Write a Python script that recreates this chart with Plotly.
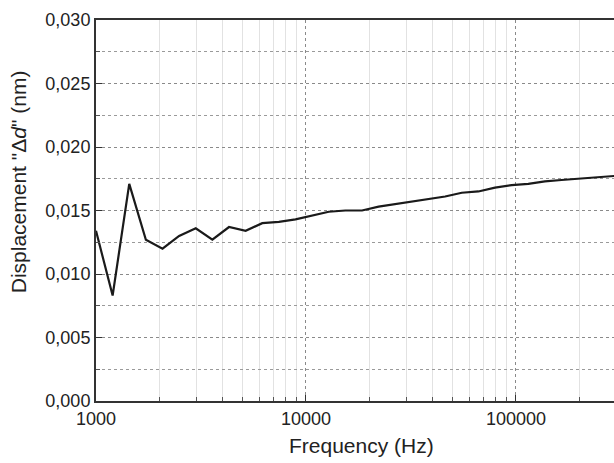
import plotly.graph_objects as go

# Data
freq_hz = [1000, 1200, 1440, 1728, 2074, 2488, 2986, 3583, 4300, 5160, 6192, 7430,
           8916, 10699, 12839, 15407, 18488, 22186, 26623, 31948, 38338, 46005,
           55206, 66247, 79497, 95396, 114475, 137370, 164844, 197813, 237376,
           284851, 341821]
displacement_nm = [0.0134, 0.0083, 0.0171, 0.0127, 0.0120, 0.0130, 0.0136, 0.0127,
                   0.0137, 0.0134, 0.0140, 0.0141, 0.0143, 0.0146, 0.0149, 0.0150,
                   0.0150, 0.0153, 0.0155, 0.0157, 0.0159, 0.0161, 0.0164, 0.0165,
                   0.0168, 0.0170, 0.0171, 0.0173, 0.0174, 0.0175, 0.0176, 0.0177,
                   0.0178]

x_tick_vals = [1000, 10000, 100000]
x_tick_text = ["1000", "10000", "100000"]
x_minor_vals = [2000, 3000, 4000, 5000, 6000, 7000, 8000, 9000,
                20000, 30000, 40000, 50000, 60000, 70000, 80000, 90000,
                200000, 300000, 400000]
y_tick_vals = [0.0, 0.005, 0.010, 0.015, 0.020, 0.025, 0.030]
y_tick_text = ["0,000", "0,005", "0,010", "0,015", "0,020", "0,025", "0,030"]
y_minor_vals = [0.0025, 0.0075, 0.0125, 0.0175, 0.0225, 0.0275]

FONT = "Liberation Sans, Arial, sans-serif"
TXT = "#222222"

fig = go.Figure()
fig.add_trace(go.Scatter(
    x=freq_hz, y=displacement_nm, mode="lines",
    line=dict(color="#1a1a1a", width=2.2), showlegend=False,
))

fig.update_layout(
    width=614, height=463,
    margin=dict(l=96, r=0, t=20, b=62),
    paper_bgcolor="white", plot_bgcolor="white",
    font=dict(family=FONT, color=TXT, size=18),
    xaxis=dict(
        type="log", range=[3, 5.467],
        tickvals=x_tick_vals, ticktext=x_tick_text,
        ticks="inside", ticklen=6, tickcolor="#333", tickwidth=1.2,
        showline=True, linecolor="#333", linewidth=2, mirror=True,
        showgrid=True, gridcolor="#8a8a8a", griddash="dot", gridwidth=1.2,
        tickfont=dict(size=18, family=FONT, color=TXT),
        minor=dict(tickvals=x_minor_vals, ticks="inside", ticklen=4,
                   tickcolor="#555", showgrid=True, gridcolor="#e2e2e2",
                   gridwidth=1, griddash="solid"),
        zeroline=False,
    ),
    yaxis=dict(
        range=[0, 0.030],
        tickvals=y_tick_vals, ticktext=y_tick_text,
        ticks="inside", ticklen=6, tickcolor="#333", tickwidth=1.2,
        showline=True, linecolor="#333", linewidth=2,
        showgrid=True, gridcolor="#8a8a8a", griddash="dot", gridwidth=1.2,
        tickfont=dict(size=18, family=FONT, color=TXT),
        minor=dict(tickvals=y_minor_vals, ticks="inside", ticklen=4,
                   tickcolor="#555", showgrid=True, gridcolor="#9a9a9a",
                   gridwidth=1, griddash="dot"),
        zeroline=False,
    ),
    annotations=[
        dict(text="Frequency (Hz)", xref="paper", yref="paper",
             x=0.513, y=-0.118, xanchor="center", yanchor="middle",
             showarrow=False, font=dict(size=21, family=FONT, color=TXT)),
        dict(text="Displacement \"Δ<i>d</i>\" (nm)", xref="paper", yref="paper",
             x=-0.148, y=0.575, xanchor="center", yanchor="middle", textangle=-90,
             showarrow=False, font=dict(size=21, family=FONT, color=TXT)),
    ],
)

fig.write_html(
    "out.html",
    config={"displayModeBar": False},
    post_script="document.body.style.margin='0';document.body.style.padding='0';"
                "document.documentElement.style.overflow='hidden';",
)
